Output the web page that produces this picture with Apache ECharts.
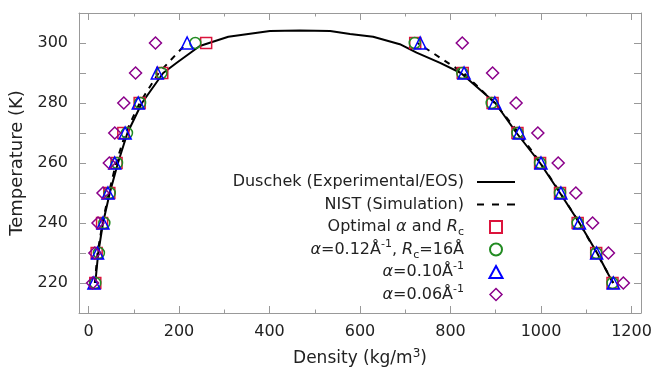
<!DOCTYPE html>
<html>
<head>
<meta charset="utf-8">
<script src="https://cdn.jsdelivr.net/npm/echarts@6/dist/echarts.min.js"></script>
<style>html,body{margin:0;padding:0;background:#fff;}#c{width:654px;height:372px;}</style>
</head>
<body>
<div id="c"></div>
<script>
// ---- data ----
const temps = [220, 230, 240, 250, 260, 270, 280, 290, 300];
const optLeft   = [15, 18, 30, 46, 62, 77, 113, 163, 260];
const optRight  = [1158, 1122, 1081, 1042, 998, 948, 893, 827, 722];
const a012Left  = [15, 23, 35, 47, 63, 85, 114, 161, 236];
const a012Right = [1158, 1122, 1081, 1042, 998, 948, 891, 826, 721];
const a010Left  = [12, 20, 32, 43, 58, 81, 110, 152, 218];
const a010Right = [1160, 1123, 1085, 1044, 1000, 952, 898, 830, 733];
const a006Left  = [9, 14, 21, 32, 46, 58, 78, 104, 148];
const a006Right = [1182, 1149, 1114, 1077, 1038, 993, 945, 893, 826];
const nistLeft  = [14, 20, 31, 45, 61, 82, 113, 155, 217];
const nistRight = [1160, 1123, 1085, 1043, 999, 951, 898, 829, 727];
const duschekDensity = [15, 21.5, 32, 47, 65, 86, 118, 165, 195, 246, 309, 401, 467, 534, 578, 629, 688, 725, 777, 823, 899, 946, 998, 1042, 1085, 1124, 1159];
const duschekTemp    = [220, 230, 240, 250, 260, 270, 280, 290, 293.4, 299, 302.1, 304.0, 304.2, 304.0, 303.0, 302.1, 299.6, 296.8, 293.4, 290, 280, 270, 260, 250, 240, 230, 220];
const xMajor = [0, 200, 400, 600, 800, 1000, 1200];
const xMinor = [100, 300, 500, 700, 900, 1100];
const yTicks = [220, 230, 240, 250, 260, 270, 280, 290, 300];
const yLabels = [220, 240, 260, 280, 300];

// ---- build ----
const pts = (xs) => xs.map((x, i) => [x, temps[i]]);
const font = 'DejaVu Sans';
const axisColor = '#999';
const xmin = -21, xmax = 1221, ymin = 210, ymax = 310;

function xAx(pos, ticks, len, showLine, labels) {
  return {
    type: 'value', min: xmin, max: xmax, position: pos,
    axisLine: { show: showLine, onZero: false, lineStyle: { color: axisColor, width: 1 } },
    axisTick: { show: true, inside: true, length: len, customValues: ticks, lineStyle: { color: axisColor, width: 1 } },
    axisLabel: labels ? { customValues: labels, formatter: (v) => String(v), fontSize: 16, fontFamily: font, color: '#222', margin: 11 } : { show: false },
    splitLine: { show: false }
  };
}
function yAx(pos, labels) {
  return {
    type: 'value', min: ymin, max: ymax, position: pos,
    axisLine: { show: true, onZero: false, lineStyle: { color: axisColor, width: 1 } },
    axisTick: { show: true, inside: true, length: 7, customValues: yTicks, lineStyle: { color: axisColor, width: 1 } },
    axisLabel: labels ? { customValues: labels, formatter: (v) => String(v), fontSize: 16, fontFamily: font, color: '#222', margin: 11 } : { show: false },
    splitLine: { show: false }
  };
}

const xAxes = [
  xAx('bottom', xMajor, 7, true, xMajor),
  xAx('bottom', xMinor, 3.5, false, null),
  xAx('top', xMajor, 7, true, null),
  xAx('top', xMinor, 3.5, false, null)
];
xAxes[0].name = 'Density (kg/m{sup|3})';
xAxes[0].nameLocation = 'middle';
xAxes[0].nameGap = 35;
xAxes[0].nameTextStyle = { fontSize: 17, fontFamily: font, color: '#222', rich: { sup: { fontSize: 12, fontFamily: font, color: '#222', verticalAlign: 'top', lineHeight: 12 } }, lineHeight: 22 };
const yAxes = [yAx('left', yLabels), yAx('right', null)];
yAxes[0].name = 'Temperature (K)';
yAxes[0].nameLocation = 'middle';
yAxes[0].nameGap = 52;
yAxes[0].nameTextStyle = { fontSize: 18, fontFamily: font, color: '#222' };

function scatter(name, left, right, symbol, color, size) {
  return {
    name: name, type: 'scatter', symbol: symbol, symbolSize: size, symbolKeepAspect: true,
    data: pts(left).concat(pts(right)),
    itemStyle: { color: 'rgba(0,0,0,0)', borderColor: color, borderWidth: 1.5, opacity: 1 },
    emphasis: { disabled: true }, z: 3
  };
}

const labelMap = {
  'duschek': 'Duschek (Experimental/EOS)',
  'nist': 'NIST (Simulation)',
  'opt': 'Optimal {i|α} and {i|R}{sub|c}',
  'a012': '{i|α}=0.12Å{sup|-1}, {i|R}{sub|c}=16Å',
  'a010': '{i|α}=0.10Å{sup|-1}',
  'a006': '{i|α}=0.06Å{sup|-1}'
};
const solidIcon = 'path://M0,0h38v2h-38z';
const dashIcon = 'path://M0,0h7v2h-7z M15,0h7v2h-7z M30,0h8v2h-8z';
const rectIcon = 'path://M0,0h11v11h-11z';
const triIcon = 'path://M6,0L12,11L0,11Z';
const diaIcon = 'path://M6.5,0L13,6.5L6.5,13L0,6.5Z';

const option = {
  animation: false,
  backgroundColor: '#fff',
  grid: { left: 79, right: 13, top: 13, bottom: 59, containLabel: false, outerBoundsMode: 'none' },
  xAxis: xAxes,
  yAxis: yAxes,
  legend: {
    orient: 'vertical', align: 'right', right: 139, top: 171, padding: 0,
    itemWidth: 38, itemHeight: 12, itemGap: 0.5, symbolKeepAspect: true,
    data: [
      { name: 'duschek', icon: solidIcon, itemStyle: { color: '#000', borderWidth: 0 } },
      { name: 'nist', icon: dashIcon, itemStyle: { color: '#000', borderWidth: 0 } },
      { name: 'opt', icon: rectIcon },
      { name: 'a012', icon: 'circle' },
      { name: 'a010', icon: triIcon },
      { name: 'a006', icon: diaIcon, itemStyle: { color: 'rgba(0,0,0,0)', borderColor: '#8b008b', borderWidth: 1.5 } }
    ],
    formatter: (n) => labelMap[n],
    textStyle: {
      fontSize: 16, fontFamily: font, color: '#222', lineHeight: 22, padding: [0, 8, 0, 0],
      rich: {
        i: { fontSize: 16, fontFamily: font, fontStyle: 'italic', color: '#222', lineHeight: 22 },
        sub: { fontSize: 11, fontFamily: font, color: '#222', verticalAlign: 'bottom', lineHeight: 14 },
        sup: { fontSize: 11, fontFamily: font, color: '#222', verticalAlign: 'top', lineHeight: 12 }
      }
    }
  },
  series: [
    {
      name: 'duschek', type: 'line', symbol: 'none', showSymbol: false,
      data: duschekDensity.map((d, i) => [d, duschekTemp[i]]),
      lineStyle: { color: '#000', width: 2 }, itemStyle: { color: '#000' }, z: 2
    },
    {
      name: 'nist', type: 'line', symbol: 'none', showSymbol: false,
      data: pts(nistLeft),
      lineStyle: { color: '#000', width: 2, type: [6, 6] }, itemStyle: { color: '#000' }, z: 2
    },
    {
      name: 'nist', type: 'line', symbol: 'none', showSymbol: false,
      data: pts(nistRight),
      lineStyle: { color: '#000', width: 2, type: [6, 6] }, itemStyle: { color: '#000' }, z: 2
    },
    scatter('opt', optLeft, optRight, 'rect', '#dc143c', 11),
    scatter('a012', a012Left, a012Right, 'circle', '#228b22', 11),
    scatter('a010', a010Left, a010Right, 'triangle', '#0000ff', 12),
    scatter('a006', a006Left, a006Right, 'diamond', '#8b008b', 12)
  ]
};
const chart = echarts.init(document.getElementById('c'), null, { renderer: 'canvas' });
chart.setOption(option);
</script>
</body>
</html>
